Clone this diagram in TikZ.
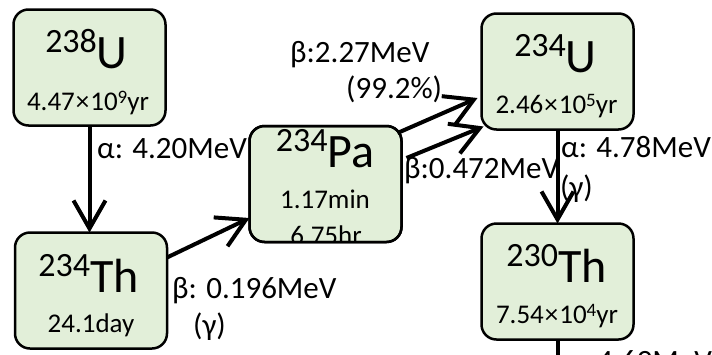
\documentclass[tikz,border=0pt]{standalone}
\usepackage{fontspec}
\setmainfont{Carlito}
\usetikzlibrary{arrows.meta}

\definecolor{boxfill}{HTML}{E2EFD9}

% isotope symbol: mass number as a raised prefix, then the element
\newcommand\isotope[2]{{\fontsize{34}{34}\selectfont\raisebox{16pt}{#1}}{\fontsize{48}{48}\selectfont #2}}
% half-life written as mantissa x 10^exp years
\newcommand\halflife[2]{#1\kern1pt×\kern1pt10\raisebox{7pt}{\fontsize{19}{19}\selectfont #2}yr}

\tikzset{
  nuclide/.style={draw=black, line width=2.5pt, fill=boxfill, rounded corners=15pt,
    minimum width=152pt, minimum height=116pt, inner sep=0pt, outer sep=0pt},
  boxline/.style={draw=black, line width=2.5pt, rounded corners=15pt},
  symtext/.style={anchor=base, inner sep=0pt},
  lifetext/.style={anchor=base, inner sep=0pt, font=\fontsize{27}{32}\selectfont},
  decaylabel/.style={anchor=base west, inner sep=0pt, font=\fontsize{31}{36}\selectfont},
  decay/.style={line width=4pt, -{Straight Barb[length=28pt,width=32pt]}},
}

\begin{document}
\begin{tikzpicture}[x=1pt, y=-1pt]
\useasboundingbox (0,0) rectangle (712,354);
\clip (0,0) rectangle (712,354);

% nuclide boxes
\node[nuclide] (u238)  at (89.5,67.5)  {};
\node[nuclide] (th234) at (91,290.5)   {};
\node[nuclide] (pa234) at (325.5,184)  {};
\node[nuclide] (u234)  at (557.5,71.5) {};
\node[nuclide] (th230) at (557.5,281.5){};

% box contents
\node[symtext]  (u238sym)  at (86.5,68)  {\isotope{238}{U}};
\node[lifetext] (u238life) at (88,110)   {\halflife{4.47}{9}};

\node[symtext]  (th234sym)  at (88.5,292) {\isotope{234}{Th}};
\node[lifetext] (th234life) at (91,332)   {24.1day};

\node[symtext]  (pa234sym)  at (325,167)  {\isotope{234}{Pa}};
\node[lifetext] (pa234life) at (325,208)  {1.17min};
\begin{scope}
  \clip[rounded corners=15pt] (pa234.south west) rectangle (pa234.north east);
  \node[lifetext] (pa234iso) at (326,244) {6.75hr};
\end{scope}
\draw[boxline] (pa234.south west) rectangle (pa234.north east);

\node[symtext]  (u234sym)  at (555.5,72) {\isotope{234}{U}};
\node[lifetext] (u234life) at (556.5,113) {\halflife{2.46}{5}};

\node[symtext]  (th230sym)  at (556.5,282) {\isotope{230}{Th}};
\node[lifetext] (th230life) at (557,323)   {\halflife{7.54}{4}};

% decay labels
\node[decaylabel] (l1)  at (97,158)  {α: 4.20MeV};
\node[decaylabel] (l2)  at (172,298) {β: 0.196MeV};
\node[decaylabel] (l2g) at (193,335) {(γ)};
\node[decaylabel] (l3)  at (290,62)  {β:2.27MeV};
\node[decaylabel] (l3b) at (346,98)  {(99.2\%)};
\node[decaylabel] (l4)  at (404,178) {β:0.472MeV};
\node[decaylabel] (l5)  at (561,157) {α: 4.78MeV};
\node[decaylabel] (l5g) at (560,197) {(γ)};
\node[decaylabel] (l6)  at (562,371) {α: 4.69MeV};

% decay arrows
\draw[decay] (u238.south) -- (u238.south |- th234.north);
\draw[decay] ([yshift=33pt]th234.east) -- ([yshift=-34pt]pa234.west);
\draw[decay] ([xshift=-4pt,yshift=-7pt]pa234.north east) -- ([xshift=-4pt,yshift=-26.5pt]u234.west);
\draw[decay] ([xshift=5pt,yshift=26pt]pa234.east) -- ([xshift=2pt,yshift=3pt]u234.south west);
\draw[decay] (u234.south) -- (th230.north);
\coordinate (chainend) at (557.5,362);
\draw[line width=4pt] (th230.south) -- (chainend);
\end{tikzpicture}
\end{document}
